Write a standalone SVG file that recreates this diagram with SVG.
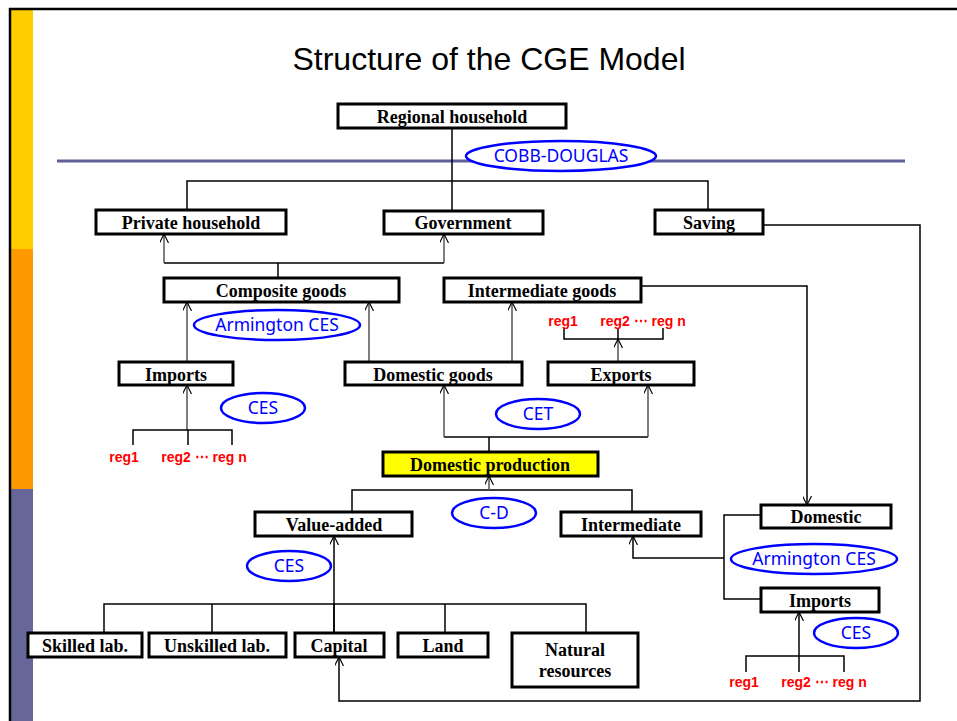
<svg xmlns="http://www.w3.org/2000/svg" width="957" height="721" viewBox="0 0 957 721">
<style>
.box{fill:#fff;stroke:#000;stroke-width:3}
.lbl{font-family:"Liberation Serif","Times New Roman",serif;font-weight:bold;font-size:18px;fill:#000;text-anchor:middle}
.ell{fill:#fff;stroke:#0000ff;stroke-width:2.5}
.etx{font-family:"Noto Sans","Open Sans",sans-serif;font-size:17.5px;fill:#0000ff;text-anchor:middle}
.reg{font-family:"Liberation Sans",Arial,sans-serif;font-weight:bold;font-size:14px;fill:#ff0000}
.ln{fill:none;stroke:#000;stroke-width:1.5}
.ar{fill:none;stroke:#555;stroke-width:1.5;marker-end:url(#ah)}
.ar2{fill:none;stroke:#000;stroke-width:1.5;marker-end:url(#ah)}
</style>
<defs>
<marker id="ah" viewBox="0 0 10 10" refX="10" refY="5" markerWidth="9" markerHeight="9" markerUnits="userSpaceOnUse" orient="auto">
<path d="M0,0 L10,5 L0,10" fill="none" stroke="#000" stroke-width="1.3"/>
</marker>
</defs>
<rect width="957" height="721" fill="#fff"/>
<rect x="11" y="10" width="22" height="239" fill="#ffcc00"/>
<rect x="11" y="249" width="22" height="240" fill="#ff9900"/>
<rect x="11" y="489" width="22" height="232" fill="#666699"/>
<line x1="9" y1="9" x2="957" y2="9" stroke="#000" stroke-width="2.5"/>
<line x1="10" y1="8" x2="10" y2="721" stroke="#000" stroke-width="2.5"/>
<text x="489" y="70" font-family="Liberation Sans,Arial,sans-serif" font-size="32" text-anchor="middle" fill="#000">Structure of the CGE Model</text>
<line x1="57" y1="161" x2="905" y2="161" stroke="#5f5f9c" stroke-width="3"/>

<g id="connectors">
<path class="ln" d="M452,128 V211 M187,210 V181 H708 V210"/>
<path class="ln" d="M278,278 V263 M164,263 H444"/>
<path class="ar" d="M164,263 V234"/>
<path class="ar" d="M444,263 V234"/>
<path class="ar" d="M187,362 V302"/>
<path class="ar" d="M369,362 V302"/>
<path class="ar" d="M512,362 V302"/>
<path class="ar2" d="M641,286 H807 V505"/>
<path class="ar" d="M618,362 V339"/>
<path class="ln" d="M564,328 V339 H663 V328 M618,339 V328"/>
<path class="ar" d="M187,430 V385"/>
<path class="ln" d="M133,445 V430 H232 V445 M188,430 V445"/>
<path class="ln" d="M489,452 V437 M444,437 H648"/>
<path class="ar" d="M444,437 V385"/>
<path class="ar" d="M648,437 V385"/>
<path class="ln" d="M352,512 V490 H632 V512"/>
<path class="ar" d="M489,490 V476"/>
<path class="ln" d="M104,633 V604 H586 V633 M212,604 V633 M445,604 V633 M334,604 V633"/>
<path class="ar2" d="M334,633 V536"/>
<path class="ln" d="M761,515 H724 V599 H761"/>
<path class="ar2" d="M724,558 H633 V536"/>
<path class="ar2" d="M799,656 V612"/>
<path class="ln" d="M746,672 V656 H844 V672 M799,656 V672"/>
<path class="ar2" d="M763,225 H920 V701 H339 V657"/>
</g>

<g id="regional-household"><rect class="box" x="338" y="104" width="228" height="24"/><text class="lbl" x="452" y="123">Regional household</text></g>
<g id="cobb-douglas"><ellipse class="ell" cx="561" cy="156" rx="95" ry="15"/><text class="etx" x="561" y="162">COBB-DOUGLAS</text></g>
<g id="private-household"><rect class="box" x="96" y="210" width="190" height="24"/><text class="lbl" x="191" y="229">Private household</text></g>
<g id="government"><rect class="box" x="384" y="211" width="159" height="23"/><text class="lbl" x="463" y="229">Government</text></g>
<g id="saving"><rect class="box" x="655" y="210" width="108" height="24"/><text class="lbl" x="709" y="229">Saving</text></g>
<g id="composite-goods"><rect class="box" x="164" y="278" width="235" height="24"/><text class="lbl" x="281" y="297">Composite goods</text></g>
<g id="intermediate-goods"><rect class="box" x="444" y="278" width="197" height="24"/><text class="lbl" x="542" y="297">Intermediate goods</text></g>
<g id="armington-ces-1"><ellipse class="ell" cx="277" cy="325" rx="83" ry="15"/><text class="etx" x="277" y="331">Armington CES</text></g>
<g id="export-regions"><text class="reg" x="563" y="326" text-anchor="middle">reg1</text><text class="reg" x="643" y="326" text-anchor="middle">reg2 ⋯ reg n</text></g>
<g id="imports"><rect class="box" x="119" y="362" width="114" height="23"/><text class="lbl" x="176" y="381">Imports</text></g>
<g id="domestic-goods"><rect class="box" x="345" y="362" width="177" height="23"/><text class="lbl" x="433" y="381">Domestic goods</text></g>
<g id="exports"><rect class="box" x="548" y="362" width="146" height="23"/><text class="lbl" x="621" y="381">Exports</text></g>
<g id="ces-1"><ellipse class="ell" cx="263" cy="408" rx="42" ry="15"/><text class="etx" x="263" y="414">CES</text></g>
<g id="cet"><ellipse class="ell" cx="538" cy="414" rx="42" ry="15"/><text class="etx" x="538" y="420">CET</text></g>
<g id="import-regions"><text class="reg" x="124" y="462" text-anchor="middle">reg1</text><text class="reg" x="204" y="462" text-anchor="middle">reg2 ⋯ reg n</text></g>
<g id="domestic-production"><rect x="383" y="452" width="215" height="24" fill="#ffff00" stroke="#000" stroke-width="3"/><text class="lbl" x="490" y="471">Domestic production</text></g>
<g id="c-d"><ellipse class="ell" cx="494" cy="513" rx="42" ry="15"/><text class="etx" x="494" y="519">C-D</text></g>
<g id="value-added"><rect class="box" x="255" y="512" width="157" height="24"/><text class="lbl" x="334" y="531">Value-added</text></g>
<g id="intermediate"><rect class="box" x="561" y="512" width="140" height="24"/><text class="lbl" x="631" y="531">Intermediate</text></g>
<g id="ces-2"><ellipse class="ell" cx="289" cy="566" rx="42" ry="15"/><text class="etx" x="289" y="572">CES</text></g>
<g id="domestic"><rect class="box" x="761" y="505" width="130" height="23"/><text class="lbl" x="826" y="523">Domestic</text></g>
<g id="armington-ces-2"><ellipse class="ell" cx="814" cy="559" rx="83" ry="15"/><text class="etx" x="814" y="565">Armington CES</text></g>
<g id="imports-2"><rect class="box" x="761" y="588" width="118" height="24"/><text class="lbl" x="820" y="607">Imports</text></g>
<g id="ces-3"><ellipse class="ell" cx="856" cy="633" rx="42" ry="15"/><text class="etx" x="856" y="639">CES</text></g>
<g id="skilled-lab"><rect class="box" x="28" y="633" width="114" height="24"/><text class="lbl" x="85" y="652">Skilled lab.</text></g>
<g id="unskilled-lab"><rect class="box" x="149" y="633" width="137" height="24"/><text class="lbl" x="217" y="652">Unskilled lab.</text></g>
<g id="capital"><rect class="box" x="295" y="633" width="89" height="24"/><text class="lbl" x="339" y="652">Capital</text></g>
<g id="land"><rect class="box" x="398" y="633" width="90" height="24"/><text class="lbl" x="443" y="652">Land</text></g>
<g id="natural-resources"><rect class="box" x="512" y="633" width="126" height="54"/><text class="lbl" x="575" y="656">Natural</text><text class="lbl" x="575" y="677">resources</text></g>
<g id="imports2-regions"><text class="reg" x="744" y="687" text-anchor="middle">reg1</text><text class="reg" x="824" y="687" text-anchor="middle">reg2 ⋯ reg n</text></g>
</svg>
